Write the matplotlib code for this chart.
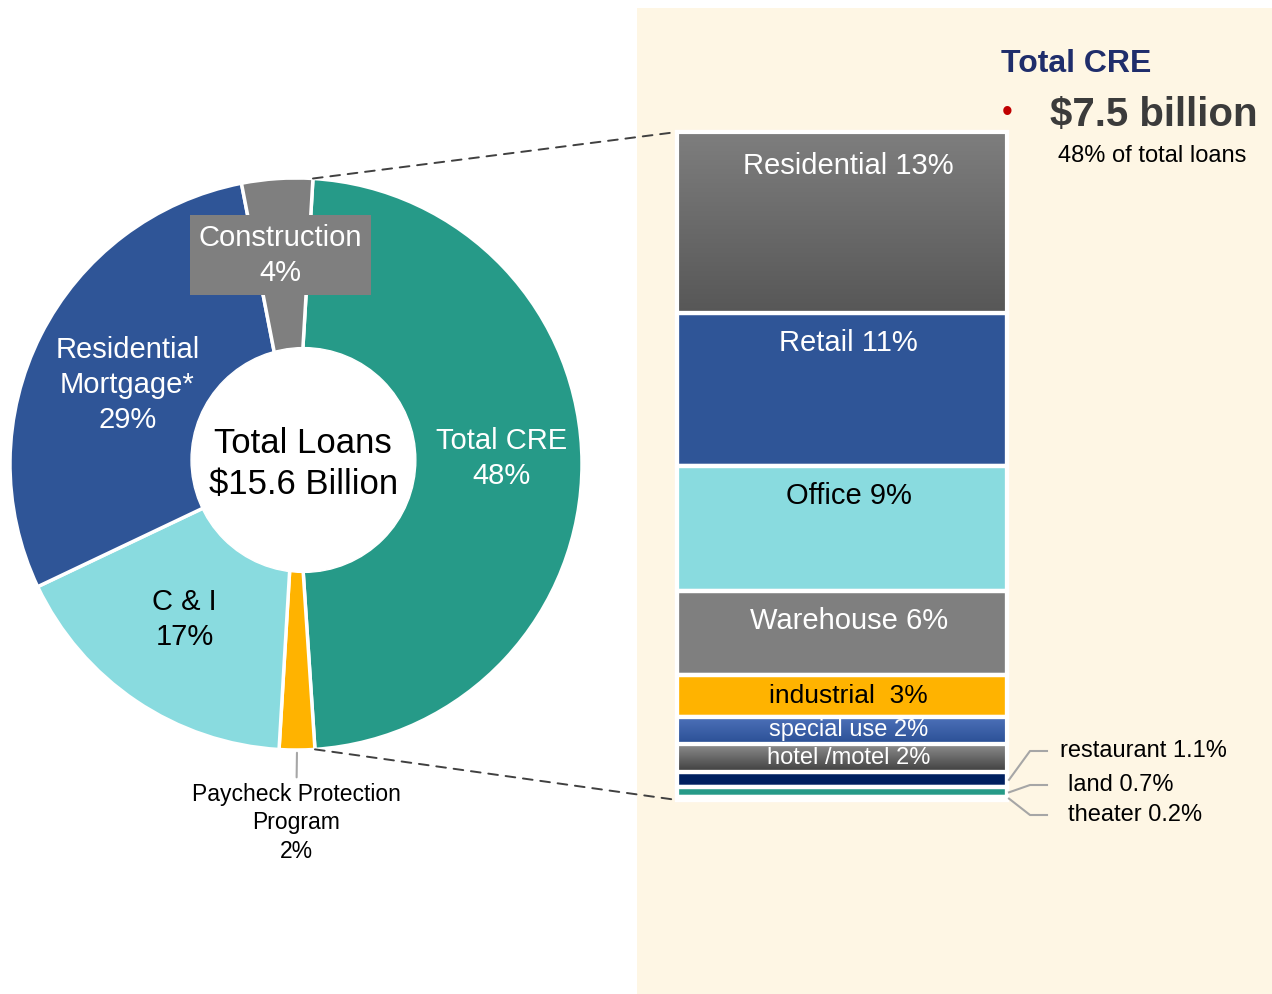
import numpy as np
import matplotlib
matplotlib.use("Agg")
import matplotlib.pyplot as plt
from matplotlib.patches import Rectangle, ConnectionPatch, Circle
from matplotlib.colors import LinearSegmentedColormap

plt.rcParams['font.family'] = ['Liberation Sans', 'DejaVu Sans']

# donut: total loans
loan_labels = ["Total CRE\n48%", "Paycheck Protection\nProgram\n2%", "C & I\n17%",
               "Residential\nMortgage*\n29%", "Construction\n4%"]
loan_share = [48, 2, 17, 29, 4]
loan_colors = ["#269A88", "#FFB300", "#89DBDF", "#2F5597", "#7F7F7F"]

# CRE breakdown (stacked bar)
cre_labels = ["Residential 13%", "Retail 11%", "Office 9%", "Warehouse 6%", "industrial  3%",
              "special use 2%", "hotel /motel 2%", "restaurant 1.1%", "land 0.7%", "theater 0.2%"]
cre_share = [13, 11, 9, 6, 3, 2, 2, 1.1, 0.7, 0.2]
cre_colors = ["#6B6B6B", "#2F5597", "#89DBDF", "#7F7F7F", "#FFB300",
              "#3A5FA8", "#6A6A6A", "#002060", "#269A88", "#269A88"]
cre_text_colors = ["white", "white", "black", "white", "black", "white", "white"]

W, H = 1272, 994
fig = plt.figure(figsize=(12.72, 9.94), dpi=100)


def px_axes(x0, y0, x1, y1, **kw):
    return fig.add_axes([x0 / W, 1 - y1 / H, (x1 - x0) / W, (y1 - y0) / H], **kw)


bg = fig.add_axes([0, 0, 1, 1], zorder=0)
bg.set_xlim(0, W)
bg.set_ylim(H, 0)
bg.axis('off')
bg.add_patch(Rectangle((637, 8), 635, 986, color='#FEF6E4', lw=0))

# ---- donut ----
ax_pie = px_axes(10, 178, 582, 750, zorder=2)
wedges, _ = ax_pie.pie(loan_share, colors=loan_colors, startangle=86.6, counterclock=False,
                       radius=1, wedgeprops=dict(width=0.68, edgecolor='white', linewidth=2.5))
for w in wedges:
    w.set_clip_on(False)
# the hole sits slightly off-centre in the original
ax_pie.add_patch(Circle((0.026, 0.014), 0.393, color='white', zorder=3))
ax_pie.set_xlim(-1, 1)
ax_pie.set_ylim(-1, 1)
ax_pie.axis('off')

fs = 21
ls = 1.32
ax_pie.text(0.72, 0.02, loan_labels[0], color='white', fontsize=fs, ha='center', va='center',
            linespacing=ls)
ax_pie.text(-0.39, -0.545, loan_labels[2], color='black', fontsize=fs, ha='center', va='center',
            linespacing=ls)
ax_pie.text(-0.59, 0.275, loan_labels[3], color='white', fontsize=fs, ha='center', va='center',
            linespacing=ls)
ax_pie.text(-0.055, 0.73, loan_labels[4], color='white', fontsize=fs, ha='center', va='center',
            linespacing=ls, bbox=dict(boxstyle='square,pad=0.3', fc='#7F7F7F', ec='none'))
ax_pie.text(0.025, 0.0, "Total Loans\n$15.6 Billion", color='black', fontsize=25,
            ha='center', va='center', linespacing=1.3, zorder=4)

ppp = wedges[1]
mid = np.deg2rad((ppp.theta1 + ppp.theta2) / 2)
ax_pie.annotate(loan_labels[1], xy=(np.cos(mid), np.sin(mid)), xytext=(0.0, -1.115),
                ha='center', va='top', fontsize=16.5, annotation_clip=False, linespacing=1.3,
                arrowprops=dict(arrowstyle='-', color='#A6A6A6', lw=1.5, shrinkA=2, shrinkB=2))

# ---- CRE stacked bar ----
ax_bar = px_axes(677, 132, 1007, 800, zorder=2)
bottoms = np.concatenate([[0], np.cumsum(cre_share)[:-1]])
bars = ax_bar.bar(0, cre_share, bottom=bottoms, width=1, color=cre_colors,
                  edgecolor='white', linewidth=3)

gradients = {0: ('#7E7E7E', '#575757'), 5: ('#4E72BA', '#2A4F95'), 6: ('#8E8E8E', '#3E3E3E')}
for i, (c_top, c_bot) in gradients.items():
    cmap = LinearSegmentedColormap.from_list('g%d' % i, [c_top, c_bot])
    grad = np.linspace(0, 1, 256).reshape(-1, 1)
    im = ax_bar.imshow(grad, cmap=cmap, aspect='auto', zorder=1.5,
                       extent=(-0.5, 0.5, bottoms[i] + cre_share[i], bottoms[i]))
    im.set_clip_path(bars[i])

ax_bar.bar(0, cre_share, bottom=bottoms, width=1, fill=False, edgecolor='white', linewidth=3,
           zorder=3)
for p in ax_bar.patches:
    p.set_clip_on(False)
ax_bar.set_xlim(-0.5, 0.5)
ax_bar.set_ylim(sum(cre_share), 0)
ax_bar.axis('off')

label_dy = [-20, -16, -16, -16, None, None, None]
label_fs = [21, 21, 21, 21, 19, 17, 17]
for i in range(7):
    if label_dy[i] is None:
        ax_bar.text(0.02, bottoms[i] + cre_share[i] / 2, cre_labels[i], color=cre_text_colors[i],
                    fontsize=label_fs[i], ha='center', va='center', zorder=4)
    else:
        ax_bar.annotate(cre_labels[i], xy=(0.02, bottoms[i]), xytext=(0, label_dy[i]),
                        textcoords='offset pixels', color=cre_text_colors[i],
                        fontsize=label_fs[i], ha='center', va='top', zorder=4)

# small categories labelled to the right
side_y = [751, 785, 815]
side_x = [1060, 1068, 1068]
top = fig.add_axes([0, 0, 1, 1], zorder=5, facecolor='none')
top.set_xlim(0, W)
top.set_ylim(H, 0)
top.axis('off')
for k, i in enumerate(range(7, 10)):
    disp = ax_bar.transData.transform((0.5, bottoms[i] + cre_share[i] / 2))
    x0, y0 = top.transData.inverted().transform(disp)
    top.plot([x0 + 2, 1030, 1047], [y0, side_y[k], side_y[k]], color='#A6A6A6', lw=1.5)
    top.text(side_x[k], side_y[k], cre_labels[i], fontsize=17, ha='left', va='center')

# dashed connectors
cre = wedges[0]
for ang, yb in [(cre.theta2, 0), (cre.theta1, sum(cre_share))]:
    a = np.deg2rad(ang)
    con = ConnectionPatch(xyA=(np.cos(a), np.sin(a)), coordsA=ax_pie.transData,
                          xyB=(-0.5, yb), coordsB=ax_bar.transData,
                          linestyle=(0, (5, 4)), color='#404040', lw=1.4, zorder=6)
    fig.add_artist(con)

# header on the right
top.text(1001, 64, "Total CRE", fontsize=23, fontweight='bold', color='#1F2D6B',
         ha='left', va='center')
top.text(1007, 113, "\u2022", fontsize=22, color='#C00000', ha='center', va='center')
top.text(1050, 115, "$7.5 billion", fontsize=29, fontweight='bold', color='#3B3B3B',
         ha='left', va='center')
top.text(1152, 156, "48% of total loans", fontsize=17, ha='center', va='center')

fig.savefig("out.png", dpi=100)
